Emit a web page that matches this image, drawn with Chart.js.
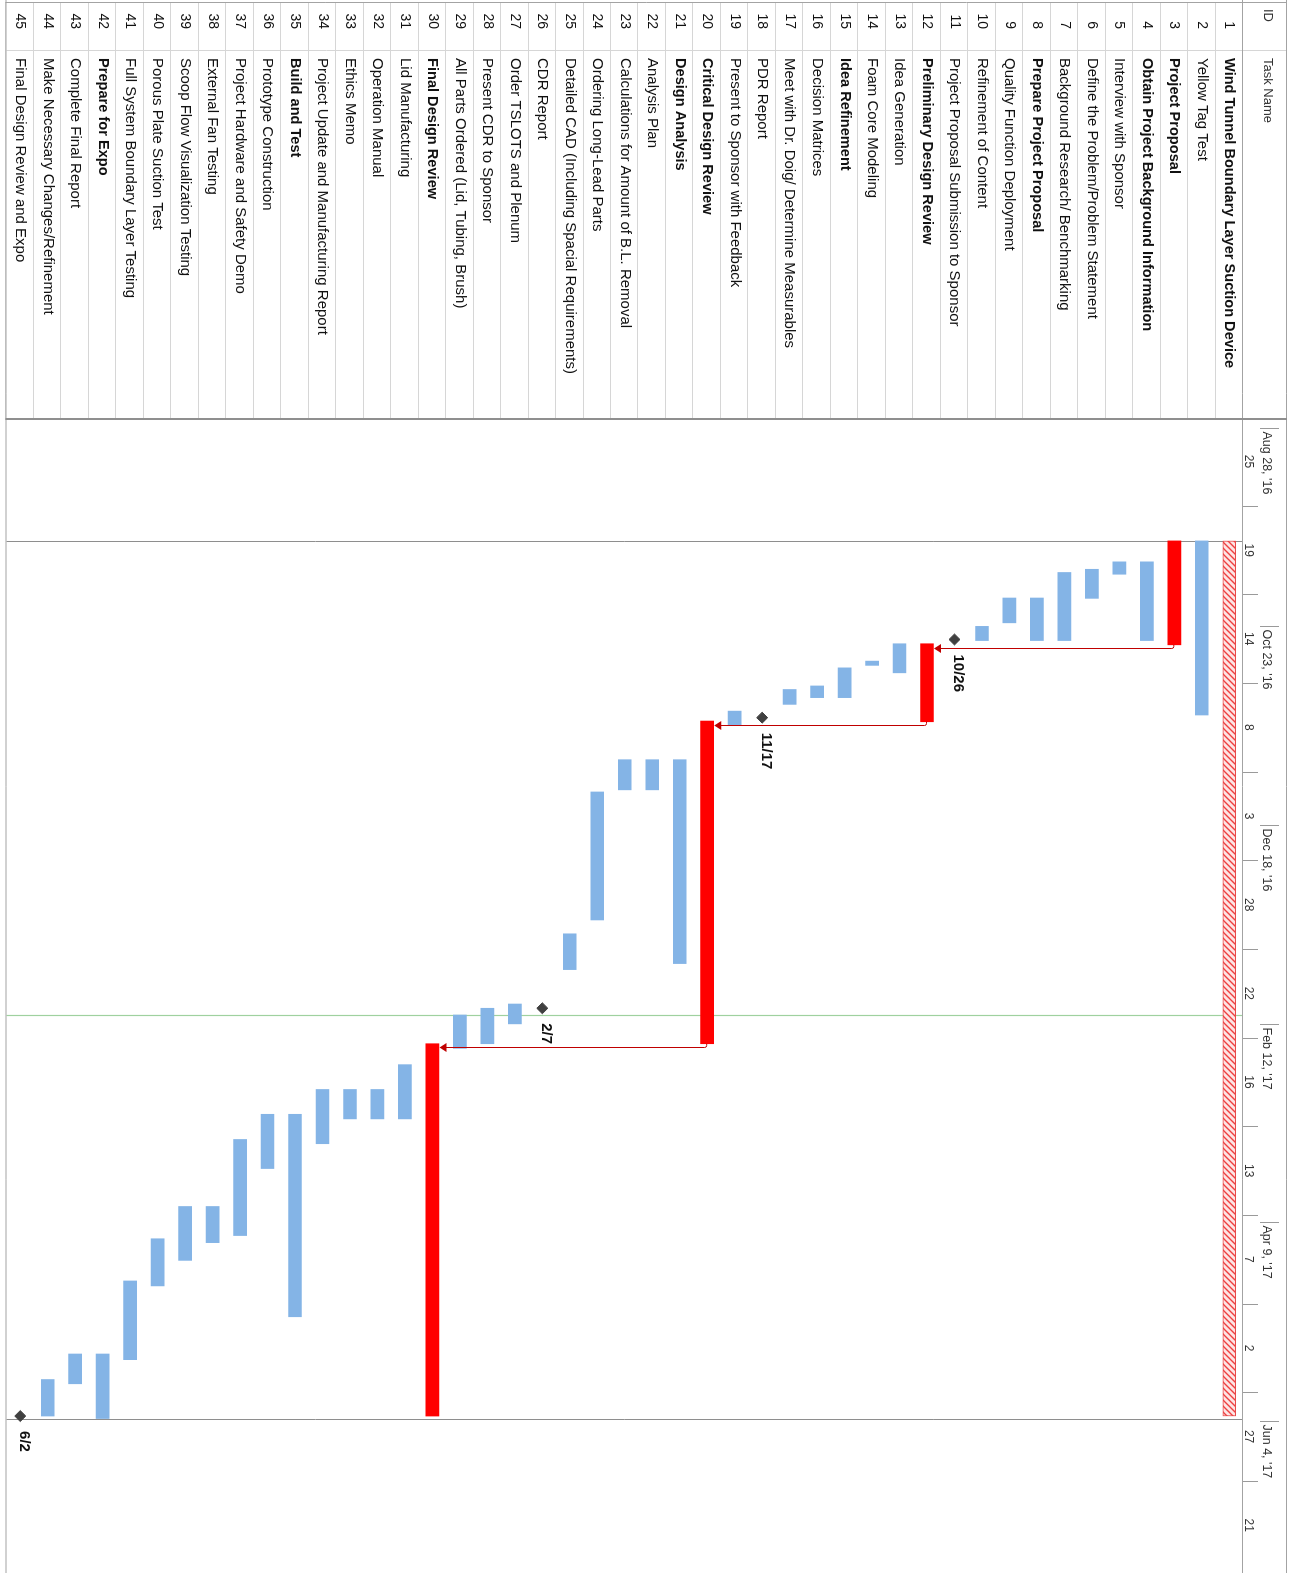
<!DOCTYPE html>
<html>
<head>
<meta charset="utf-8">
<script src="https://cdn.jsdelivr.net/npm/chart.js@4.4.1/dist/chart.umd.min.js"></script>
<style>
  html, body { margin: 0; padding: 0; background: #fff; overflow: hidden; }
  #frame {
    position: absolute; left: 0; top: 0;
    width: 1573px; height: 1299px;
    transform-origin: 0 0;
    transform: translate(1299px, 0) rotate(90deg);
  }
</style>
</head>
<body>
<div id="frame"><canvas id="gantt" width="1573" height="1299"></canvas></div>
<script>
// ---- Schedule data (days counted from Aug 25, 2016) ----
const taskIds = Array.from({ length: 45 }, (_, i) => String(i + 1));

const taskNames = [
  "Wind Tunnel Boundary Layer Suction Device",
  "Yellow Tag Test",
  "Project Proposal",
  "Obtain Project Background Information",
  "Interview with Sponsor",
  "Define the Problem/Problem Statement",
  "Background Research/ Benchmarking",
  "Prepare Project Proposal",
  "Quality Function Deployment",
  "Refinement of Content",
  "Project Proposal Submission to Sponsor",
  "Preliminary Design Review",
  "Idea Generation",
  "Foam Core Modeling",
  "Idea Refinement",
  "Decision Matrices",
  "Meet with Dr. Doig/ Determine Measurables",
  "PDR Report",
  "Present to Sponsor with Feedback",
  "Critical Design Review",
  "Design Analysis",
  "Analysis Plan",
  "Calculations for Amount of B.L. Removal",
  "Ordering Long-Lead Parts",
  "Detailed CAD (Including Spacial Requirements)",
  "CDR Report",
  "Order TSLOTS and Plenum",
  "Present CDR to Sponsor",
  "All Parts Ordered (Lid, Tubing, Brush)",
  "Final Design Review",
  "Lid Manufacturing",
  "Operation Manual",
  "Ethics Memo",
  "Project Update and Manufacturing Report",
  "Build and Test",
  "Prototype Construction",
  "Project Hardware and Safety Demo",
  "External Fan Testing",
  "Scoop Flow Visualization Testing",
  "Porous Plate Suction Test",
  "Full System Boundary Layer Testing",
  "Prepare for Expo",
  "Complete Final Report",
  "Make Necessary Changes/Refinement",
  "Final Design Review and Expo"
];

// summary rows shown in bold
const summaryTasks = [1, 3, 4, 8, 12, 15, 20, 21, 30, 35, 42];

// bar kind per task: P = project summary, C = critical summary, T = task, M = milestone
const taskKind = [
  "P","T","C","T","T","T","T","T","T","T",
  "M","C","T","T","T","T","T","M","T","C",
  "T","T","T","T","T","M","T","T","T","C",
  "T","T","T","T","T","T","T","T","T","T",
  "T","T","T","T","M"
];

const taskStart = [
  34.9, 34.9, 34.9, 40.8, 40.8, 42.9, 43.8, 51.0, 51.0, 59.0,
  null, 63.9, 63.9, 68.8, 70.7, 75.8, 76.8, null, 82.9, 85.7,
  96.6, 96.6, 96.6, 105.7, 145.7, null, 165.5, 166.7, 168.6, 176.7,
  182.6, 189.6, 189.6, 189.6, 196.6, 196.6, 203.7, 222.6, 222.6, 231.7,
  243.6, 264.2, 264.2, 271.4, null
];

const taskFinish = [
  281.7, 84.0, 64.2, 63.0, 44.3, 51.1, 63.0, 63.0, 58.0, 63.0,
  null, 85.9, 72.1, 70.0, 79.1, 79.1, 81.0, null, 87.0, 176.7,
  154.1, 105.1, 105.1, 141.8, 155.8, null, 171.1, 176.7, 178.0, 281.7,
  197.9, 197.9, 197.9, 204.9, 253.7, 211.9, 230.8, 232.8, 237.8, 245.0,
  265.8, 282.4, 272.6, 281.7, null
];

// milestones: task id, day, date label
const milestoneTasks = [11, 18, 26, 45];
const milestoneDays = [62.7, 84.75, 166.7, 281.7];
const milestoneLabels = ["10/26", "11/17", "2/7", "6/2"];

// finish-to-start links between the critical summaries
const linkFrom = [3, 12, 20];
const linkTo = [12, 20, 30];

// markers
const projectStartDay = 34.9;
const projectFinishDay = 282.4;
const statusDay = 168.6;

// timescale: upper tier (every 8 weeks) and lower tier (every 25 days)
const majorTickDays = [3, 59, 115, 171, 227, 283];
const majorTickLabels = ["Aug 28, '16", "Oct 23, '16", "Dec 18, '16", "Feb 12, '17", "Apr 9, '17", "Jun 4, '17"];
const minorTickDays = [0, 25, 50, 75, 100, 125, 150, 175, 200, 225, 250, 275, 300];
const minorTickLabels = ["25", "19", "14", "8", "3", "28", "22", "16", "13", "7", "2", "27", "21"];
const minorStep = 25;

const axisMin = 0.8;
const axisMax = 324.13;

// ---- styling ----
const FONT = "'Liberation Sans', Arial, sans-serif";
const BLUE = "#84b4e6";
const RED = "#ff0000";
const TABLE_RIGHT = 420;
const HEADER_BOTTOM = 56;
const TOP_BORDER = 12;

function hatchPattern() {
  const c = document.createElement("canvas");
  c.width = 6; c.height = 6;
  const g = c.getContext("2d");
  g.fillStyle = "#fde4e4";
  g.fillRect(0, 0, 6, 6);
  g.strokeStyle = "#ee4040";
  g.lineWidth = 1.4;
  g.beginPath();
  g.moveTo(0, 6); g.lineTo(6, 0);
  g.moveTo(-3, 3); g.lineTo(3, -3);
  g.moveTo(3, 9); g.lineTo(9, 3);
  g.stroke();
  return g.createPattern(c, "repeat");
}

function barsOf(kind) {
  return taskIds.map((id, i) =>
    taskKind[i] === kind && taskStart[i] != null ? [taskStart[i], taskFinish[i]] : null);
}

const ganttPlugin = {
  id: "ganttDecor",
  beforeDatasetsDraw(chart) {
    const { ctx, chartArea: a, scales: { x } } = chart;
    ctx.save();
    const vline = (day, color, w) => {
      const px = Math.round(x.getPixelForValue(day)) + 0.5;
      ctx.strokeStyle = color; ctx.lineWidth = w;
      ctx.beginPath(); ctx.moveTo(px, a.top); ctx.lineTo(px, a.bottom); ctx.stroke();
    };
    vline(projectStartDay, "#8e8e8e", 1);
    vline(projectFinishDay, "#8e8e8e", 1);
    vline(statusDay, "#9fd19f", 1.2);
    ctx.restore();
  },
  afterDatasetsDraw(chart) {
    const { ctx, scales: { x, y } } = chart;
    ctx.save();
    // dependency links
    ctx.strokeStyle = "#c00000";
    ctx.fillStyle = "#c00000";
    ctx.lineWidth = 1;
    linkFrom.forEach((from, k) => {
      const to = linkTo[k];
      const fi = from - 1, ti = to - 1;
      const x0 = x.getPixelForValue(taskFinish[fi]);
      const y0 = y.getPixelForValue(fi);
      const xl = Math.round(x0 + 3) + 0.5;
      const yEnd = y.getPixelForValue(ti) - 7;
      ctx.beginPath();
      ctx.moveTo(x0, y0 + 0.5);
      ctx.lineTo(xl - 2, y0 + 0.5);
      ctx.quadraticCurveTo(xl, y0 + 0.5, xl, y0 + 2.5);
      ctx.lineTo(xl, yEnd - 6);
      ctx.stroke();
      ctx.beginPath();
      ctx.moveTo(xl - 4.5, yEnd - 7);
      ctx.lineTo(xl + 4.5, yEnd - 7);
      ctx.lineTo(xl, yEnd);
      ctx.closePath();
      ctx.fill();
    });
    // milestone date labels
    ctx.fillStyle = "#111";
    ctx.font = "bold 15px " + FONT;
    ctx.textBaseline = "middle";
    ctx.textAlign = "left";
    milestoneTasks.forEach((t, k) => {
      const px = x.getPixelForValue(milestoneDays[k]) + 15;
      const py = y.getPixelForValue(t - 1) - 4;
      ctx.fillText(milestoneLabels[k], px, py);
    });
    ctx.restore();
  },
  afterDraw(chart) {
    const { ctx, chartArea: a, scales: { x, y } } = chart;
    const W = chart.width;
    ctx.save();
    const rowH = (a.bottom - a.top) / taskIds.length;

    // table row separators
    ctx.strokeStyle = "#d6d6d6";
    ctx.lineWidth = 1;
    for (let i = 1; i <= taskIds.length; i++) {
      const yy = Math.round(y.getPixelForValue(i - 1) + rowH / 2) + 0.5;
      ctx.beginPath(); ctx.moveTo(2, yy); ctx.lineTo(TABLE_RIGHT, yy); ctx.stroke();
    }
    // ID / name column separator
    ctx.beginPath(); ctx.moveTo(50.5, TOP_BORDER); ctx.lineTo(50.5, a.bottom); ctx.stroke();

    // table text
    ctx.fillStyle = "#111";
    ctx.textBaseline = "middle";
    taskIds.forEach((id, i) => {
      const yy = y.getPixelForValue(i);
      ctx.font = "14px " + FONT;
      ctx.textAlign = "right";
      ctx.fillText(id, 29, yy);
      const bold = summaryTasks.includes(i + 1);
      ctx.font = (bold ? "bold 14.6px " : "15px ") + FONT;
      ctx.textAlign = "left";
      ctx.fillText(taskNames[i], 58, yy);
    });

    // header text
    ctx.font = "13px " + FONT;
    ctx.textBaseline = "alphabetic";
    ctx.textAlign = "left";
    ctx.fillStyle = "#333";
    ctx.fillText("ID", 9, 35);
    ctx.fillText("Task Name", 58, 35);

    // timescale: upper tier
    ctx.save();
    ctx.beginPath();
    ctx.rect(TABLE_RIGHT, TOP_BORDER, W - TABLE_RIGHT, HEADER_BOTTOM - TOP_BORDER);
    ctx.clip();
    ctx.strokeStyle = "#9a9a9a";
    ctx.font = "12.5px " + FONT;
    majorTickDays.forEach((d, k) => {
      const px = Math.round(x.getPixelForValue(d)) + 0.5;
      ctx.beginPath(); ctx.moveTo(px, 20); ctx.lineTo(px, 39); ctx.stroke();
      ctx.fillText(majorTickLabels[k], px + 3, 36);
    });
    // lower tier
    ctx.font = "12px " + FONT;
    ctx.textAlign = "center";
    minorTickDays.forEach((d, k) => {
      const px = Math.round(x.getPixelForValue(d)) + 0.5;
      ctx.beginPath(); ctx.moveTo(px, 41); ctx.lineTo(px, HEADER_BOTTOM); ctx.stroke();
      const mid = x.getPixelForValue(d + minorStep / 2);
      ctx.fillText(minorTickLabels[k], mid, 54);
    });
    ctx.restore();

    // frame lines
    ctx.strokeStyle = "#a3a3a3";
    ctx.lineWidth = 1;
    ctx.beginPath(); ctx.moveTo(0, HEADER_BOTTOM + 0.5); ctx.lineTo(W, HEADER_BOTTOM + 0.5); ctx.stroke();
    ctx.beginPath(); ctx.moveTo(0, TOP_BORDER + 0.5); ctx.lineTo(W, TOP_BORDER + 0.5); ctx.stroke();
    ctx.beginPath(); ctx.moveTo(2.5, TOP_BORDER); ctx.lineTo(2.5, a.bottom + 1); ctx.stroke();
    ctx.beginPath(); ctx.moveTo(0, a.bottom + 0.5); ctx.lineTo(W, a.bottom + 0.5); ctx.stroke();
    ctx.strokeStyle = "#8f8f8f";
    ctx.lineWidth = 2;
    ctx.beginPath(); ctx.moveTo(TABLE_RIGHT - 1, TOP_BORDER); ctx.lineTo(TABLE_RIGHT - 1, a.bottom + 1); ctx.stroke();
    ctx.restore();
  }
};

const ms = milestoneTasks.map((t, k) => ({ x: milestoneDays[k], y: String(t) }));

new Chart(document.getElementById("gantt"), {
  type: "bar",
  data: {
    labels: taskIds,
    datasets: [
      {
        label: "Project",
        data: barsOf("P"),
        backgroundColor: hatchPattern(),
        borderColor: "#e84a4a",
        borderWidth: 1,
        borderSkipped: false,
        barThickness: 13,
        grouped: false
      },
      {
        label: "Critical summary",
        data: barsOf("C"),
        backgroundColor: RED,
        borderColor: "#e00000",
        borderWidth: 0,
        barThickness: 13,
        grouped: false
      },
      {
        label: "Task",
        data: barsOf("T"),
        backgroundColor: BLUE,
        borderWidth: 0,
        barThickness: 13,
        grouped: false
      },
      {
        type: "scatter",
        label: "Milestone",
        data: ms,
        pointStyle: "rectRot",
        pointRadius: 5.5,
        backgroundColor: "#404040",
        borderColor: "#404040",
        borderWidth: 1
      }
    ]
  },
  options: {
    responsive: false,
    animation: false,
    indexAxis: "y",
    layout: { padding: { left: TABLE_RIGHT, top: HEADER_BOTTOM, right: 0, bottom: 3 } },
    scales: {
      x: { type: "linear", min: axisMin, max: axisMax, display: false },
      y: { type: "category", display: false, offset: true }
    },
    plugins: { legend: { display: false }, tooltip: { enabled: false } }
  },
  plugins: [ganttPlugin]
});
</script>
</body>
</html>
